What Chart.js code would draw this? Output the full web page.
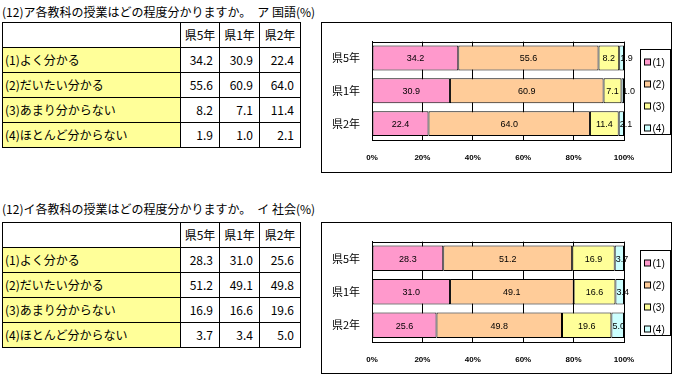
<!DOCTYPE html>
<html>
<head>
<meta charset="utf-8">
<script src="https://cdn.jsdelivr.net/npm/chart.js@4"></script>
<style>
  body { margin: 0; width: 673px; height: 374px; position: relative; overflow: hidden; background: #fff;
         font-family: "Noto Sans CJK JP", sans-serif; color: #000; }
  .title { position: absolute; left: 2px; font-size: 12px; line-height: 14px; white-space: nowrap; }
  table { position: absolute; left: 2px; border-collapse: collapse; table-layout: fixed; font-size: 12px; }
  td { border: 1px solid #000; height: 24px; padding: 0; line-height: 14px; white-space: nowrap; }
  td.lab { background: #ffff99; text-align: left; padding-left: 2px; }
  td.head { text-align: center; }
  td.num { text-align: right; padding-right: 6px; }
  .frame { position: absolute; left: 321px; width: 349px; border: 1px solid #000; }
  canvas { display: block; }
</style>
</head>
<body>
<div class="title" style="top:5px">(12)ア各教科の授業はどの程度分かりますか。　ア 国語(%)</div>
<table id="tbl1" style="top:22px"></table>
<div class="frame" style="top:22px;height:149px"><canvas id="chart1" width="349" height="149"></canvas></div>

<div class="title" style="top:202px">(12)イ各教科の授業はどの程度分かりますか。　イ 社会(%)</div>
<table id="tbl2" style="top:222px"></table>
<div class="frame" style="top:222px;height:150px"><canvas id="chart2" width="349" height="150"></canvas></div>

<script>
// ================= DATA =================
const groups = ["県5年", "県1年", "県2年"];
const seriesNames = ["(1)", "(2)", "(3)", "(4)"];
const rowLabels = ["(1)よく分かる", "(2)だいたい分かる", "(3)あまり分からない", "(4)ほとんど分からない"];
const xTicks = [0, 20, 40, 60, 80, 100];
const colors = ["#ff99cc", "#ffcc99", "#ffff99", "#ccffff"];

// 国語
const kokugo1 = [34.2, 30.9, 22.4];
const kokugo2 = [55.6, 60.9, 64.0];
const kokugo3 = [8.2, 7.1, 11.4];
const kokugo4 = [1.9, 1.0, 2.1];

// 社会
const shakai1 = [28.3, 31.0, 25.6];
const shakai2 = [51.2, 49.1, 49.8];
const shakai3 = [16.9, 16.6, 19.6];
const shakai4 = [3.7, 3.4, 5.0];

// ================= TABLES =================
function buildTable(id, series) {
  const t = document.getElementById(id);
  let html = '<colgroup><col style="width:178px"><col style="width:39px"><col style="width:40px"><col style="width:41px"></colgroup>';
  html += '<tr><td></td>' + groups.map(g => `<td class="head">${g}</td>`).join("") + "</tr>";
  series.forEach((vals, i) => {
    html += `<tr><td class="lab">${rowLabels[i]}</td>` +
      vals.map(v => `<td class="num">${v.toFixed(1)}</td>`).join("") + "</tr>";
  });
  t.innerHTML = html;
}

// ================= CHART PLUGIN =================
// plot top line, value labels and the boxed legend
const excelLook = {
  id: "excelLook",
  afterDatasetsDraw(chart) {
    const { ctx, chartArea: a } = chart;
    ctx.save();
    ctx.strokeStyle = "#000";
    ctx.lineWidth = 1;
    ctx.beginPath();
    ctx.moveTo(a.left, Math.round(a.top) + 0.5);
    ctx.lineTo(a.right, Math.round(a.top) + 0.5);
    ctx.stroke();

    // value labels (narrow segments: label starts at the segment's left edge)
    ctx.font = '9px "Liberation Sans"';
    ctx.fillStyle = "#000";
    ctx.textBaseline = "middle";
    chart.data.datasets.forEach((ds, i) => {
      chart.getDatasetMeta(i).data.forEach((bar, j) => {
        const txt = ds.raw[j].toFixed(1);
        const tw = ctx.measureText(txt).width;
        const left = Math.min(bar.x, bar.base);
        const w = Math.abs(bar.x - bar.base);
        if (tw + 2 > w) {
          ctx.textAlign = "left";
          ctx.fillText(txt, left + 1, bar.y + 1);
        } else {
          ctx.textAlign = "center";
          ctx.fillText(txt, left + w / 2, bar.y + 1);
        }
      });
    });

    // legend
    const lx = Math.round(a.right) + 16.5;
    const mid = (a.top + a.bottom) / 2;
    const ly = Math.round(mid - 42) + 0.5;
    ctx.fillStyle = "#fff";
    ctx.fillRect(lx, ly, 30, 85);
    ctx.strokeRect(lx, ly, 30, 85);
    ctx.font = '10px "Liberation Sans"';
    ctx.textAlign = "left";
    chart.data.datasets.forEach((ds, i) => {
      const y = Math.round(ly + 12 + i * 22);
      ctx.fillStyle = ds.backgroundColor;
      ctx.fillRect(lx + 4, y - 3, 6, 6);
      ctx.strokeRect(lx + 4, y - 3, 6, 6);
      ctx.fillStyle = "#000";
      ctx.fillText(ds.label, lx + 12, y + 1);
    });
    ctx.restore();
  }
};

// ================= CHARTS =================
function makeChart(id, series, plotTop, plotBottom) {
  const canvas = document.getElementById(id);
  const h = canvas.height;
  const totals = groups.map((g, j) => series.reduce((s, vals) => s + vals[j], 0));

  return new Chart(canvas, {
    type: "bar",
    data: {
      labels: groups,
      datasets: series.map((vals, i) => ({
        label: seriesNames[i],
        raw: vals,
        data: vals.map((v, j) => v / totals[j] * 100),
        backgroundColor: colors[i],
        borderColor: "#000",
        borderWidth: 1,
        borderSkipped: false,
        categoryPercentage: 1,
        barPercentage: 0.76
      }))
    },
    options: {
      indexAxis: "y",
      responsive: false,
      animation: false,
      devicePixelRatio: 1,
      layout: { padding: { top: plotTop, right: 47, left: 0, bottom: 0 } },
      plugins: { legend: { display: false }, tooltip: { enabled: false } },
      scales: {
        x: {
          stacked: true,
          min: 0,
          max: 100,
          afterBuildTicks: s => { s.ticks = xTicks.map(v => ({ value: v })); },
          afterFit: s => { s.height = h - plotBottom; },
          grid: { color: "#000", drawTicks: false },
          border: { display: true, color: "#000" },
          ticks: {
            padding: 13,
            color: "#000",
            font: { family: "Liberation Sans", size: 8, weight: "bold" },
            callback: v => v + "%"
          }
        },
        y: {
          stacked: true,
          afterFit: s => { s.width = 50; },
          grid: { drawOnChartArea: false, drawTicks: false },
          border: { display: true, color: "#000" },
          ticks: {
            padding: 12,
            color: "#000",
            font: { family: "Noto Sans CJK JP", size: 11 }
          }
        }
      }
    },
    plugins: [excelLook]
  });
}

// ================= INIT =================
const kokugo = [kokugo1, kokugo2, kokugo3, kokugo4];
const shakai = [shakai1, shakai2, shakai3, shakai4];

buildTable("tbl1", kokugo);
buildTable("tbl2", shakai);
makeChart("chart1", kokugo, 4, 117);
makeChart("chart2", shakai, 3, 119);
</script>
</body>
</html>
